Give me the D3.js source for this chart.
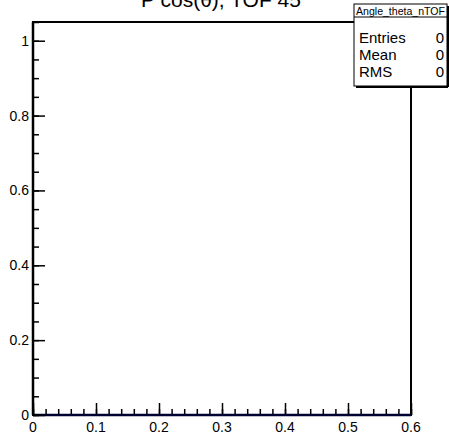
<!DOCTYPE html>
<html><head><meta charset="utf-8">
<script src="https://cdn.jsdelivr.net/npm/d3@7"></script>
<style>body{margin:0;background:#fff}svg{display:block}text{font-family:"Liberation Sans",Arial,sans-serif}</style>
</head><body>
<svg id="c" width="449" height="436"></svg>
<script>
const title = "P cos(θ), TOF 45";
const histName = "Angle_theta_nTOF";
const statLabels = ["Entries", "Mean", "RMS"];
const statValues = [0, 0, 0];
const xTicks = [0, 0.1, 0.2, 0.3, 0.4, 0.5, 0.6];
const yTicks = [0, 0.2, 0.4, 0.6, 0.8, 1];
const xDomain = [0, 0.6];
const yDomain = [0, 1.05];

const svg = d3.select("#c");
const L = 33, R = 411, T = 22, B = 415;
const x = d3.scaleLinear().domain(xDomain).range([L, R]);
const y = d3.scaleLinear().domain(yDomain).range([B, T]);

// frame
svg.append("rect").attr("x", L).attr("y", T).attr("width", R - L).attr("height", B - T)
  .attr("fill", "none").attr("stroke", "#000").attr("stroke-width", 2);

// x axis
const xMinor = d3.range(0, 0.6001, 0.02);
const xa = svg.append("g").attr("transform", `translate(0,${B})`);
xa.call(d3.axisTop(x).tickValues(xMinor).tickSize(6).tickFormat(""))
  .call(g => g.select(".domain").remove())
  .call(g => g.selectAll("line").attr("stroke", "#000").attr("stroke-width", 1.5));
xa.append("g").call(d3.axisTop(x).tickValues(xTicks).tickSize(12).tickFormat(""))
  .call(g => g.select(".domain").remove())
  .call(g => g.selectAll("line").attr("stroke", "#000").attr("stroke-width", 1.5));
svg.append("line").attr("x1", L).attr("x2", R).attr("y1", B).attr("y2", B).attr("stroke", "#000033").attr("stroke-width", 2.5);
svg.append("g").selectAll("text").data(xTicks).join("text")
  .attr("x", d => x(d)).attr("y", 432).attr("text-anchor", "middle")
  .attr("font-size", 14).text(d => d3.format("")(d));

// y axis
const yMinor = d3.range(0, 1.0501, 0.05);
const ya = svg.append("g").attr("transform", `translate(${L},0)`);
ya.call(d3.axisRight(y).tickValues(yMinor).tickSize(6).tickFormat(""))
  .call(g => g.select(".domain").remove())
  .call(g => g.selectAll("line").attr("stroke", "#000").attr("stroke-width", 1.5));
ya.append("g").call(d3.axisRight(y).tickValues(yTicks).tickSize(12).tickFormat(""))
  .call(g => g.select(".domain").remove())
  .call(g => g.selectAll("line").attr("stroke", "#000").attr("stroke-width", 1.5));
svg.append("line").attr("x1", L).attr("x2", L).attr("y1", T).attr("y2", B).attr("stroke", "#000").attr("stroke-width", 2.5);
svg.append("g").selectAll("text").data(yTicks).join("text")
  .attr("x", 29).attr("y", d => y(d) + 5).attr("text-anchor", "end")
  .attr("font-size", 14).text(d => d3.format("")(d));

// title
svg.append("text").attr("x", 221).attr("y", 7).attr("text-anchor", "middle")
  .attr("font-size", 21).text(title);

// stats box
const bx = 354, by = 4, bw = 93, bh = 82;
svg.append("rect").attr("x", bx).attr("y", by).attr("width", bw).attr("height", bh)
  .attr("fill", "#fff").attr("stroke", "#000").attr("stroke-width", 1);
svg.append("line").attr("x1", bx + bw + 1).attr("x2", bx + bw + 1).attr("y1", by + 2).attr("y2", by + bh + 1).attr("stroke", "#000").attr("stroke-width", 2);
svg.append("line").attr("x1", bx + 2).attr("x2", bx + bw + 1).attr("y1", by + bh + 1).attr("y2", by + bh + 1).attr("stroke", "#000").attr("stroke-width", 2);
svg.append("line").attr("x1", bx).attr("x2", bx + bw).attr("y1", by + 13).attr("y2", by + 13).attr("stroke", "#000").attr("stroke-width", 1);
svg.append("text").attr("x", bx + bw / 2).attr("y", by + 10.5).attr("text-anchor", "middle")
  .attr("font-size", 11).attr("textLength", 89).attr("lengthAdjust", "spacingAndGlyphs").text(histName);
const rowY = d3.scalePoint().domain(statLabels).range([by + 34, by + 68]);
svg.append("g").selectAll("text").data(statLabels).join("text")
  .attr("x", bx + 5).attr("y", d => rowY(d) + 5).attr("font-size", 15).text(d => d);
svg.append("g").selectAll("text").data(statValues).join("text")
  .attr("x", bx + bw - 3).attr("y", (d, i) => rowY(statLabels[i]) + 5).attr("text-anchor", "end")
  .attr("font-size", 15).text(d => d);
</script>
</body></html>
